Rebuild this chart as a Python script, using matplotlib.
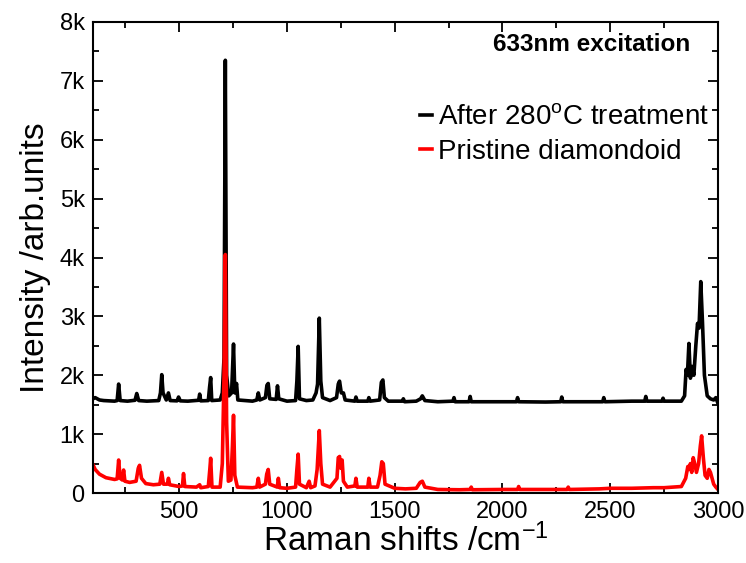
import matplotlib
matplotlib.use("Agg")
from matplotlib import pyplot as plt
from matplotlib.ticker import MultipleLocator, FuncFormatter
from matplotlib.lines import Line2D

plt.rcParams['font.family'] = ['Liberation Sans', 'DejaVu Sans']
plt.rcParams['mathtext.fontset'] = 'custom'
plt.rcParams['mathtext.rm'] = 'Liberation Sans'
plt.rcParams['mathtext.it'] = 'Liberation Sans'

# After 280C treatment (black) - vertices
black_x = [100, 110, 130, 150, 200, 212, 219, 226, 260, 295, 303, 312, 350, 405, 413, 419, 425, 440, 450, 458,
           490, 497, 505, 540, 590, 595, 600, 635, 641, 646, 651, 690, 700, 708, 714, 720, 730, 743, 752, 758,
           766, 772, 840, 860, 867, 874, 900, 907, 913, 920, 950, 956, 962, 1000, 1040, 1046, 1052, 1058, 1090,
           1120, 1135, 1142, 1150, 1157, 1165, 1200, 1230, 1238, 1244, 1252, 1262, 1270, 1315, 1320, 1326, 1375,
           1380, 1386, 1430, 1438, 1445, 1452, 1470, 1535, 1540, 1546, 1600, 1620, 1628, 1640, 1700, 1770, 1775,
           1780, 1845, 1850, 1855, 2000, 2065, 2070, 2075, 2200, 2270, 2275, 2280, 2400, 2465, 2470, 2475, 2600,
           2660, 2665, 2670, 2700, 2740, 2745, 2750, 2830, 2845, 2852, 2858, 2865, 2872, 2880, 2888, 2897, 2905,
           2912, 2920, 2928, 2937, 2950, 2965, 2980, 2990, 3000]
black_y = [1600, 1620, 1580, 1570, 1560, 1570, 1850, 1570, 1560, 1575, 1690, 1570, 1560, 1570, 1700, 2010, 1700, 1580, 1700, 1570,
           1565, 1630, 1565, 1560, 1575, 1680, 1565, 1570, 1800, 1960, 1570, 1580, 1700, 2300, 7350, 2000, 1650, 1700, 2530, 1700,
           1860, 1580, 1560, 1580, 1700, 1580, 1620, 1830, 1860, 1600, 1590, 1820, 1600, 1560, 1570, 1900, 2490, 1600, 1570,
           1580, 1700, 1850, 2970, 1900, 1620, 1570, 1620, 1850, 1900, 1700, 1700, 1580, 1560, 1630, 1560, 1560,
           1620, 1560, 1580, 1880, 1920, 1620, 1560, 1560, 1600, 1550, 1560, 1600, 1650, 1570, 1550, 1560, 1620,
           1550, 1550, 1640, 1550, 1550, 1550, 1620, 1550, 1545, 1550, 1630, 1550, 1550, 1550, 1620, 1550, 1560,
           1560, 1640, 1560, 1560, 1560, 1610, 1560, 1560, 1650, 2100, 2000, 2540, 1950, 2150, 2000, 2500, 2880,
           2800, 3590, 2900, 2000, 1650, 1600, 1580, 1620, 1520]

# Pristine diamondoid (red)
red_x = [100, 110, 130, 160, 200, 212, 219, 226, 236, 242, 248, 270, 300, 310, 316, 325, 345, 380, 410, 419, 427,
         445, 450, 456, 500, 515, 520, 526, 580, 595, 600, 635, 642, 646, 652, 690, 700, 708, 714, 720, 728, 740,
         747, 752, 758, 770, 840, 860, 867, 873, 900, 906, 913, 920, 955, 960, 966, 1000, 1040, 1046, 1052, 1058,
         1090, 1103, 1110, 1130, 1140, 1150, 1157, 1165, 1200, 1232, 1238, 1244, 1250, 1256, 1262, 1280, 1315,
         1320, 1326, 1375, 1380, 1386, 1420, 1432, 1440, 1447, 1455, 1500, 1550, 1600, 1618, 1628, 1640, 1700,
         1800, 1850, 1855, 1860, 2000, 2070, 2075, 2080, 2200, 2300, 2305, 2310, 2450, 2500, 2600, 2700, 2750,
         2830, 2850, 2860, 2866, 2872, 2878, 2885, 2892, 2900, 2910, 2918, 2924, 2932, 2940, 2950, 2958, 2965,
         2980, 2990, 3000]
red_y = [480, 400, 320, 260, 230, 240, 560, 250, 220, 390, 200, 180, 200, 420, 470, 250, 160, 140, 150, 350, 150,
         150, 250, 140, 110, 120, 330, 110, 100, 140, 90, 110, 400, 590, 100, 100, 500, 2000, 4050, 1200, 200, 220,
         800, 1320, 300, 100, 90, 100, 250, 100, 150, 320, 400, 150, 100, 250, 90, 80, 100, 400, 660, 150,
         90, 200, 90, 120, 400, 1060, 500, 150, 100, 250, 600, 620, 420, 560, 200, 100, 120,
         250, 100, 100, 250, 100, 100, 300, 530, 500, 150, 80, 70, 80, 180, 200, 100, 60,
         55, 60, 100, 55, 60, 60, 110, 60, 60, 60, 100, 60, 70, 80, 80, 90, 90,
         110, 250, 450, 400, 500, 350, 600, 500, 350, 500, 800, 970, 600, 300, 250, 400, 350,
         150, 100, 60]

fig = plt.figure(figsize=(7.46, 5.63), dpi=100)
ax = fig.add_axes([93/746, 1 - 493/563, (718-93)/746, (493-22)/563])

ax.plot(black_x, black_y, color='black', lw=2.6)
ax.plot(red_x, red_y, color='red', lw=2.6)

ax.set_xlim(100, 3000)
ax.set_ylim(0, 8000)
ax.xaxis.set_major_locator(MultipleLocator(500))
ax.xaxis.set_minor_locator(MultipleLocator(250))
ax.yaxis.set_major_locator(MultipleLocator(1000))
ax.yaxis.set_minor_locator(MultipleLocator(500))
ax.yaxis.set_major_formatter(FuncFormatter(lambda v, p: '0' if v == 0 else '%dk' % (v / 1000)))
ax.tick_params(which='both', direction='in', top=True, right=True, width=1.3, labelsize=17)
ax.tick_params(which='major', length=7, pad=6)
ax.tick_params(which='minor', length=4)
for s in ax.spines.values():
    s.set_linewidth(1.5)

ax.set_xlabel('Raman shifts /cm$^{-1}$', fontsize=24, labelpad=0)
ax.set_ylabel('Intensity /arb.units', fontsize=24, labelpad=6)

ax.text(0.955, 0.952, '633nm excitation', transform=ax.transAxes, ha='right', va='center',
        fontsize=17.5, fontweight='bold')

handles = [Line2D([], [], color='black', lw=2.6), Line2D([], [], color='red', lw=2.6)]
ax.legend(handles, ['After 280$^{\\mathrm{o}}$C treatment', 'Pristine diamondoid'],
          loc='upper left', bbox_to_anchor=(0.523, 0.825), frameon=False, fontsize=20,
          handlelength=0.45, handletextpad=0.2, labelspacing=0.3, borderaxespad=0, borderpad=0)

fig.savefig('out.png', dpi=100)
